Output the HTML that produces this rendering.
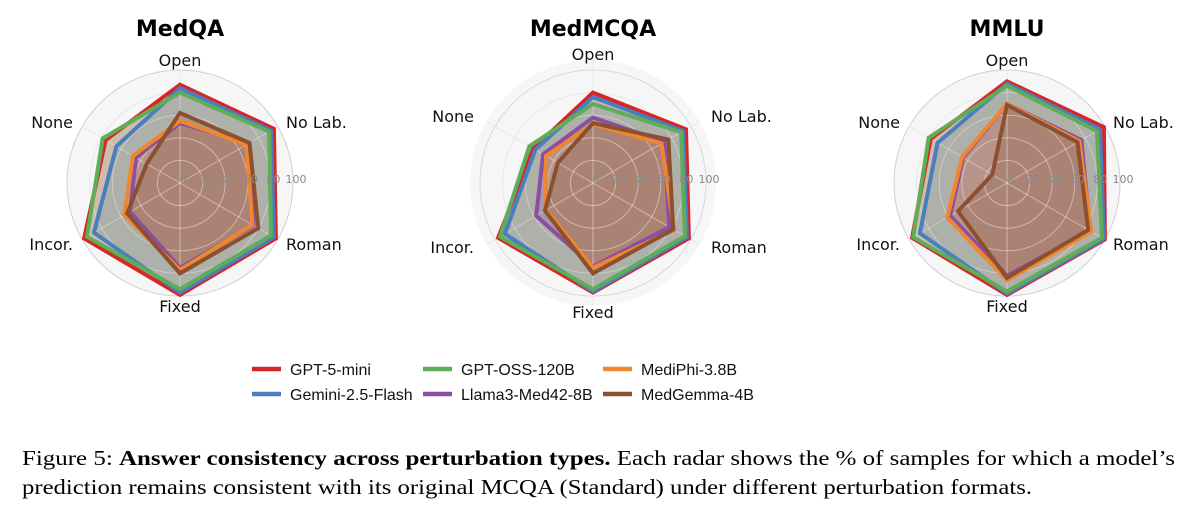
<!DOCTYPE html>
<html><head><meta charset="utf-8"><style>
html,body{margin:0;padding:0;background:#fff;width:1198px;height:518px;overflow:hidden}
svg{display:block}
.lab{font-family:"DejaVu Sans","Liberation Sans",sans-serif;font-size:16px;fill:#111}
.tt{font-family:"DejaVu Sans","Liberation Sans",sans-serif;font-size:22px;font-weight:bold;fill:#000}
.tk{font-family:"DejaVu Sans","Liberation Sans",sans-serif;font-size:11px;fill:#888}
.lg{font-family:"Liberation Sans",sans-serif;font-size:16px;fill:#111}
.cap{font-family:"Liberation Serif",serif;font-size:21px;fill:#000}
</style></head><body>
<svg id="s" width="1198" height="518" xmlns="http://www.w3.org/2000/svg"></svg>
<script>
const S=document.getElementById('s');
const cols=['#d62728','#4a7fbf','#5fad56','#8c4fa0','#f0862f','#8b5030'];
const charts=[
 {cx:180,cy:183,title:'MedQA',disc:113,ring:true,
  d:[[87,96,98,99,98,76],[84,93,96,97,88,65],[80,91,93,94,95,79],[53,70,75,75,51,45],[55,68,74,77,57,48],[62,71,80,80,54,34]]},
 {cx:593,cy:183,title:'MedMCQA',disc:123,ring:false,
  d:[[80,95,98,97,97,61],[76,92,96,96,90,59],[70,90,94,94,95,65],[58,73,78,74,58,51],[52,70,83,75,48,48],[53,77,82,80,49,36]]},
 {cx:1007,cy:183,title:'MMLU',disc:113,ring:true,
  d:[[90,99,100,99,97,78],[88,95,99,98,89,71],[86,92,97,96,96,80],[70,76,85,82,58,45],[70,74,86,86,61,46],[69,72,83,84,50,15]]}
];
const k=1.13;
const ang=[90,30,-30,-90,210,150].map(a=>a*Math.PI/180);
let h='';
charts.forEach((c,ci)=>{
 const {cx,cy}=c;
 h+=`<circle cx="${cx}" cy="${cy}" r="${c.disc}" fill="#f6f6f6"/>`;
 if(c.ring) h+=`<circle cx="${cx}" cy="${cy}" r="${c.disc}" fill="none" stroke="#d0d0d0" stroke-width="1"/>`;
 [20,40,60,80,100].forEach(r=>{ if(r*k<c.disc-1) h+=`<circle cx="${cx}" cy="${cy}" r="${r*k}" fill="none" stroke="#d8d8d8" stroke-width="1"/>`;});
 ang.forEach(a=>{h+=`<line x1="${cx}" y1="${cy}" x2="${cx+c.disc*Math.cos(a)}" y2="${cy-c.disc*Math.sin(a)}" stroke="#d8d8d8" stroke-width="1"/>`;});
 c.d.forEach((v,i)=>{
  const p=v.map((r,j)=>`${(cx+r*k*Math.cos(ang[j])).toFixed(1)},${(cy-r*k*Math.sin(ang[j])).toFixed(1)}`).join(' ');
  h+=`<polygon points="${p}" fill="${cols[i]}" fill-opacity="0.24" stroke="none"/>`;
 });
 [20,40,60,80].forEach(r=>{h+=`<circle cx="${cx}" cy="${cy}" r="${r*k}" fill="none" stroke="#fff" stroke-opacity="0.45" stroke-width="1"/>`;});
 ang.forEach(a=>{h+=`<line x1="${cx}" y1="${cy}" x2="${cx+c.disc*Math.cos(a)}" y2="${cy-c.disc*Math.sin(a)}" stroke="#fff" stroke-opacity="0.45" stroke-width="1"/>`;});
 c.d.forEach((v,i)=>{
  const p=v.map((r,j)=>`${(cx+r*k*Math.cos(ang[j])).toFixed(1)},${(cy-r*k*Math.sin(ang[j])).toFixed(1)}`).join(' ');
  h+=`<polygon points="${p}" fill="none" stroke="${cols[i]}" stroke-width="4" stroke-linejoin="miter"/>`;
 });
 [0,20,40,60,80,100].forEach(r=>{h+=`<text class="tk" x="${cx+r*k+3}" y="${cy}" text-anchor="middle">${r}</text>`;});
 h+=`<text class="tt" x="${cx}" y="36" text-anchor="middle">${c.title}</text>`;
 const o=ci==1?6:0;
 h+=`<text class="lab" x="${cx}" y="${66-o}" text-anchor="middle">Open</text>`;
 h+=`<text class="lab" x="${cx+106+o*2}" y="${128-o}">No Lab.</text>`;
 h+=`<text class="lab" x="${cx+106+o*2}" y="${250+o/2}">Roman</text>`;
 h+=`<text class="lab" x="${cx}" y="${312+o}" text-anchor="middle">Fixed</text>`;
 h+=`<text class="lab" x="${cx-107-o*2}" y="${250+o/2}" text-anchor="end">Incor.</text>`;
 h+=`<text class="lab" x="${cx-107-o*2}" y="${128-o}" text-anchor="end">None</text>`;
});
const lg=[['GPT-5-mini',252,369,0],['Gemini-2.5-Flash',252,394,1],['GPT-OSS-120B',423,369,2],['Llama3-Med42-8B',423,394,3],['MediPhi-3.8B',603,369,4],['MedGemma-4B',603,394,5]];
lg.forEach(([t,x,y,i])=>{
 h+=`<line x1="${x}" y1="${y}" x2="${x+29}" y2="${y}" stroke="${cols[i]}" stroke-width="4.5"/>`;
 h+=`<text class="lg" x="${x+38}" y="${y+6}">${t}</text>`;
});
h+=`<text class="cap" x="22" y="465" textLength="1153" lengthAdjust="spacingAndGlyphs">Figure 5: <tspan font-weight="bold">Answer consistency across perturbation types.</tspan> Each radar shows the % of samples for which a model’s</text>`;
h+=`<text class="cap" x="22" y="494" textLength="1010" lengthAdjust="spacingAndGlyphs">prediction remains consistent with its original MCQA (Standard) under different perturbation formats.</text>`;
S.innerHTML=h;
</script>
</body></html>
